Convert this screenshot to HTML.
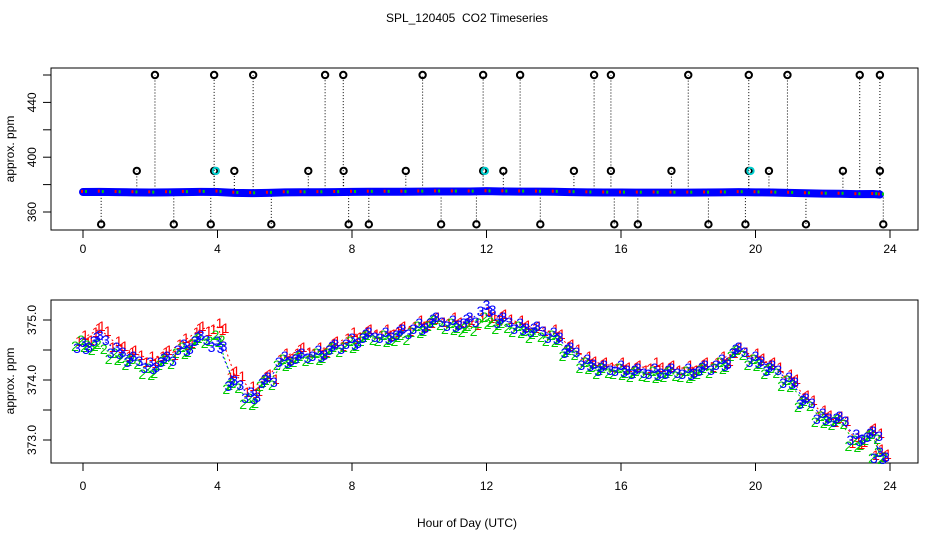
<!DOCTYPE html>
<html><head><meta charset="utf-8"><style>
body{margin:0;background:#fff}
svg{display:block;font-family:"Liberation Sans",sans-serif}
</style></head><body>
<svg id="c" width="936" height="540" viewBox="0 0 936 540">
<text x="467" y="22" font-size="12" text-anchor="middle">SPL_120405&#160; CO2 Timeseries</text>
<rect x="51" y="68" width="867" height="162" fill="none" stroke="#000"/>
<rect x="51" y="300" width="867" height="163" fill="none" stroke="#000"/>
<text transform="translate(14,149) rotate(-90)" font-size="12" text-anchor="middle">approx. ppm</text>
<text transform="translate(14,381) rotate(-90)" font-size="12" text-anchor="middle">approx. ppm</text>
<text x="467" y="527" font-size="12" text-anchor="middle">Hour of Day (UTC)</text>
<g id="g"></g>
</svg>
<script>
const hours=[0,0.5,1,1.5,2,2.5,3,3.5,4,4.5,5,5.5,6,6.5,7,7.5,8,8.5,9,9.5,10,10.5,11,11.5,12,12.5,13,13.5,14,14.5,15,15.5,16,16.5,17,17.5,18,18.5,19,19.5,20,20.5,21,21.5,22,22.5,23,23.5,23.7];
const s3=[374.58,374.7,374.5,374.35,374.25,374.35,374.55,374.7,374.6,373.95,373.75,374.0,374.35,374.4,374.45,374.55,374.65,374.75,374.75,374.8,374.9,375.0,374.95,375.0,375.2,375.0,374.9,374.85,374.75,374.5,374.3,374.2,374.2,374.15,374.15,374.15,374.15,374.2,374.3,374.5,374.35,374.2,374.0,373.65,373.4,373.35,373.05,373.1,372.75];
const s1=[374.7,374.85,374.6,374.45,374.35,374.45,374.65,374.85,374.9,374.1,373.85,374.05,374.4,374.5,374.5,374.6,374.75,374.8,374.8,374.85,374.95,375.0,375.0,374.95,375.1,375.05,374.95,374.85,374.8,374.55,374.35,374.25,374.25,374.2,374.25,374.2,374.2,374.25,374.35,374.5,374.4,374.25,374.05,373.7,373.45,373.35,373.0,373.15,372.8];
const s2=[374.62,374.55,374.4,374.3,374.15,374.3,374.5,374.65,374.7,373.9,373.65,373.95,374.3,374.35,374.4,374.5,374.6,374.7,374.7,374.7,374.85,374.95,374.9,374.85,375.0,374.9,374.85,374.75,374.7,374.45,374.25,374.15,374.15,374.1,374.1,374.1,374.1,374.15,374.25,374.45,374.3,374.15,373.95,373.6,373.35,373.3,372.95,373.05,372.75];
const spikeHiHours=[2.14,3.9,5.06,7.2,7.74,10.1,11.9,13.0,15.2,15.7,18.0,19.8,20.95,23.1,23.7];
const spikeLoHours=[0.54,2.7,3.8,5.6,7.9,8.5,10.65,11.7,13.6,15.8,16.5,18.6,19.7,21.5,23.8];
const spikeMidHours=[1.6,3.9,4.5,6.7,7.75,9.6,11.9,12.5,14.6,15.7,17.5,19.8,20.4,22.6,23.7];
const cyanHours=[3.95,11.95,19.85];
const spikeHi=460, spikeLo=351, spikeMid=390;
const xTicks=[0,4,8,12,16,20,24];
const topYTicks=[360,380,400,420,440,460];
const topYLabels=[360,400,440];
const botYTicks=[373.0,373.5,374.0,374.5,375.0];
const botYLabels=["373.0","374.0","375.0"];

const NS="http://www.w3.org/2000/svg";
const g=document.getElementById('g');
const X=h=>83+h*(890-83)/24;
const YT=v=>212-(v-360)*1.37;
const YB=v=>380-(v-374)*60;
function mk(t,a){const e=document.createElementNS(NS,t);for(const k in a)e.setAttribute(k,a[k]);g.appendChild(e);return e;}
function baseAt(h){let i=0;while(i<hours.length-1&&hours[i+1]<h)i++;return s3[i];}

[[230,253],[463,490]].forEach(([yb,yl])=>{
  xTicks.forEach(t=>{
    const l=mk('line',{x1:X(t),x2:X(t),y1:yb,y2:yb+8,stroke:'#000'});
    
    
    const tx=mk('text',{x:X(t),y:yl,'font-size':12,'text-anchor':'middle'});
    tx.textContent=t;
    
    
  });
});
topYTicks.forEach(v=>{
  const l=mk('line',{x1:43,x2:51,y1:YT(v),y2:YT(v),stroke:'#000'});
  
  
});
topYLabels.forEach(v=>{
  const t=mk('text',{transform:`translate(36,${YT(v)}) rotate(-90)`,'font-size':12,'text-anchor':'middle'});
  t.textContent=v;
  
  
});
botYTicks.forEach(v=>{
  const l=mk('line',{x1:43,x2:51,y1:YB(v),y2:YB(v),stroke:'#000'});
  
  
});
botYLabels.forEach(v=>{
  const t=mk('text',{transform:`translate(36,${YB(+v)}) rotate(-90)`,'font-size':12,'text-anchor':'middle'});
  t.textContent=v;
  
  
});

[[spikeHiHours,spikeHi],[spikeLoHours,spikeLo],[spikeMidHours,spikeMid]].forEach(([hs,v])=>{
  hs.forEach(h=>{
    const l=mk('line',{x1:X(h),x2:X(h),y1:YT(baseAt(h)),y2:YT(v),stroke:'#000','stroke-dasharray':'1,2'});
    
    
  });
});
const pts=hours.map((h,i)=>X(h)+','+YT(s3[i])).join(' ');
const band=mk('polyline',{points:pts,fill:'none',stroke:'#0000ff','stroke-width':8,'stroke-linecap':'round'});


[[s1,'#ff0000',-2],[s2,'#00cc00',2]].forEach(([s,c,d])=>{
  hours.forEach((h,i)=>{
    const r=mk('rect',{x:X(h)+d,y:YT(s[i])-2,width:2,height:3,fill:c});
    
    
  });
});
[[spikeHiHours,spikeHi],[spikeLoHours,spikeLo],[spikeMidHours,spikeMid]].forEach(([hs,v])=>{
  hs.forEach(h=>{
    const c=mk('circle',{cx:X(h),cy:YT(v),r:3.2,fill:'none',stroke:'#000','stroke-width':2});
    
    
  });
});
cyanHours.forEach(h=>{
  const c=mk('circle',{cx:X(h),cy:YT(spikeMid),r:3.2,fill:'none',stroke:'#00cccc','stroke-width':2});
  
  
});

const jit=[[-6,3],[0,-3],[6,2],[-3,-1],[3,4]];
[[s1,'#ff0000','1',2],[s2,'#00cc00','2',-2],[s3,'#0000ff','3',0]].forEach(([s,c,ch,d])=>{
  const ln=mk('polyline',{points:hours.map((h,i)=>X(h)+','+YB(s[i])).join(' '),fill:'none',stroke:c,'stroke-dasharray':'2,3'});
  
  
  hours.forEach((h,i)=>{
    jit.forEach(([ox,oy],k)=>{
      if(k>=3 && (i+k)%2) return;
      const t=mk('text',{x:X(h)+ox+d,y:YB(s[i])+5+oy,'font-size':14,fill:c,'text-anchor':'middle'});
      t.textContent=ch;
      
      
    });
  });
});
</script>
</body></html>
